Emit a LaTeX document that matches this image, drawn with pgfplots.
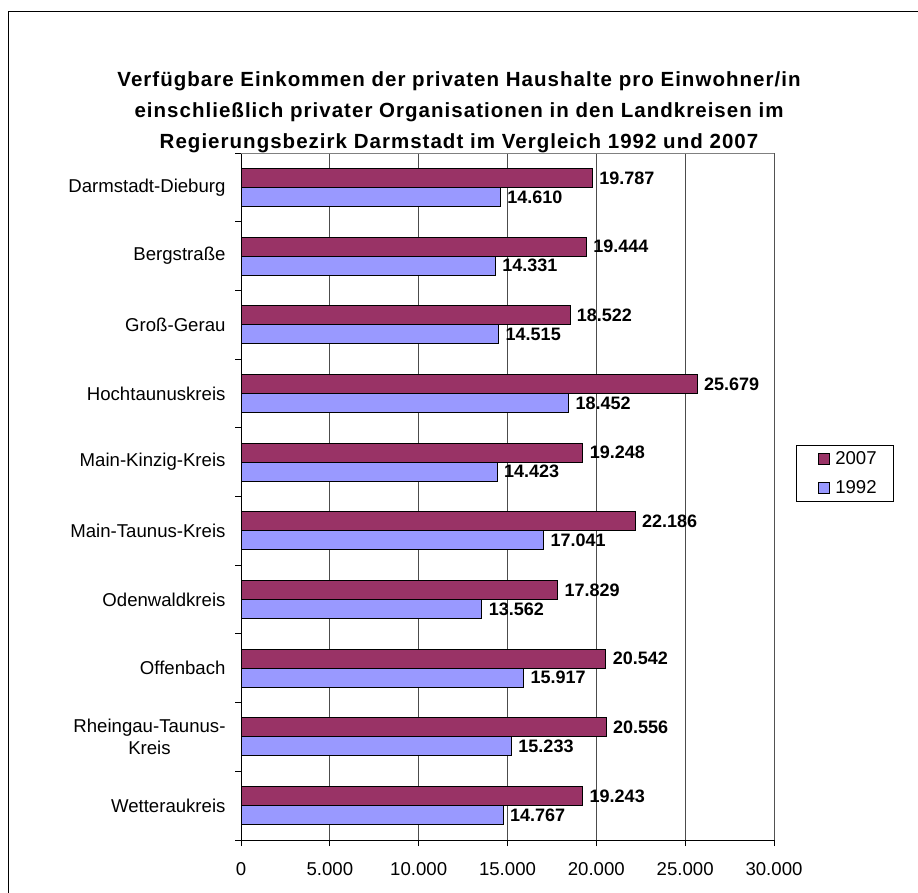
\documentclass[border=0pt]{standalone}
\usepackage{fontspec}
\setmainfont{Liberation Sans}
\newfontfamily\titlefont[LetterSpace=5]{Liberation Sans}
\usepackage{pgfplots}
\pgfplotsset{compat=1.18}
\definecolor{plum}{HTML}{993366}
\definecolor{lavender}{HTML}{9999FF}

\begin{document}
\begin{tikzpicture}[x=1pt,y=1pt]
\path[use as bounding box] (0,0) rectangle (918,892);
% outer chart frame
\draw[line width=1pt] (8,-4) -- (8,880) -- (924,880);
% title
\node[align=center, font=\titlefont\bfseries\fontsize{20.5}{31}\selectfont] at (459,780)
  {Verfügbare Einkommen der privaten Haushalte pro Einwohner/in\\
   einschließlich privater Organisationen in den Landkreisen im\\
   Regierungsbezirk Darmstadt im Vergleich 1992 und 2007};
\begin{axis}[
  at={(241pt,52pt)}, anchor=south west,
  scale only axis, width=533pt, height=687pt,
  xbar, bar width=0.2766,
  xmin=0, xmax=30000, ymin=-0.5, ymax=9.5, y dir=reverse,
  axis x line*=bottom, axis y line*=left,
  axis line style={-, line width=1pt, black},
  tick align=outside, major tick length=6pt,
  tick style={black, line width=1pt},
  xtick={0,5000,...,30000}, scaled x ticks=false,
  /pgf/number format/fixed,
  /pgf/number format/1000 sep={.},
  /pgf/number format/assume math mode=true,
  xmajorgrids, major grid style={black!70, line width=0.8pt},
  tick label style={font=\fontsize{18.6}{22}\selectfont},
  xticklabel style={yshift=-13pt},
  ytick={-0.5,0.5,...,9.5}, yticklabels={},
  extra y ticks={0,1,2,3,4,5,6,7,8,9},
  extra y tick labels={Darmstadt-Dieburg, Bergstraße, Groß-Gerau, Hochtaunuskreis,
    Main-Kinzig-Kreis, Main-Taunus-Kreis, Odenwaldkreis, Offenbach,
    {Rheingau-Taunus-\\Kreis}, Wetteraukreis},
  extra y tick style={major tick length=0pt,
    yticklabel style={align=center, xshift=-12pt}},
  nodes near coords,
  nodes near coords style={font=\bfseries\fontsize{18}{20}\selectfont, black, xshift=3pt},
  legend entries={{2007\hspace*{11pt}},{1992\hspace*{11pt}}},
  legend style={at={(1.041,0.575)}, anchor=north west, draw=black, line width=0.8pt,
    font=\fontsize{18.6}{22}\selectfont, row sep=11pt, inner xsep=4pt, inner ysep=4pt},
  legend image code/.code={\path (-10pt,0pt) (22pt,0pt);
    \draw[#1, draw=black, line width=0.8pt] (8pt,-5.5pt) rectangle (19pt,5.5pt);},
]
\addplot[fill=plum, draw=black, line width=1pt, bar shift=-0.1383] coordinates {
  (19787,0) (19444,1) (18522,2) (25679,3) (19248,4)
  (22186,5) (17829,6) (20542,7) (20556,8) (19243,9)};
\addplot[fill=lavender, draw=black, line width=1pt, bar shift=0.1383] coordinates {
  (14610,0) (14331,1) (14515,2) (18452,3) (14423,4)
  (17041,5) (13562,6) (15917,7) (15233,8) (14767,9)};
% plot area border on top and right
\draw[gray, line width=1pt] (axis cs:0,-0.5) -- (axis cs:30000,-0.5) -- (axis cs:30000,9.5);
\end{axis}
\end{tikzpicture}
\end{document}
